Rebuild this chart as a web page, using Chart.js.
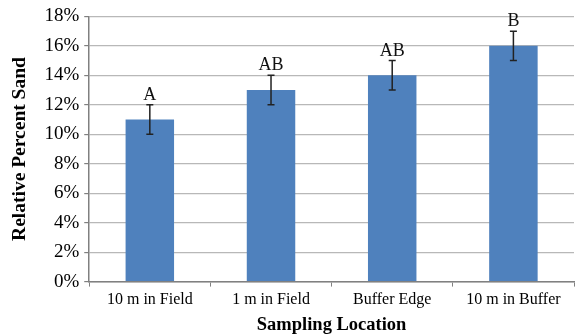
<!DOCTYPE html>
<html>
<head>
<meta charset="utf-8">
<script src="https://cdn.jsdelivr.net/npm/chart.js@4/dist/chart.umd.min.js"></script>
<style>
  html, body { margin: 0; padding: 0; background: #fff; }
  #wrap { width: 576px; height: 336px; }
</style>
</head>
<body>
<div id="wrap"><canvas id="chart"></canvas></div>
<script>
// --- Dados ---
const locations = ['10 m in Field', '1 m in Field', 'Buffer Edge', '10 m in Buffer'];
const sandPercent = [11, 13, 14, 16];
const errorPercent = [1, 1, 1, 1];
const groupLetters = ['A', 'AB', 'AB', 'B'];

const serif = '"Liberation Serif", "Times New Roman", serif';

// Barras de erro + letras de significância desenhadas pelas escalas
const errorBarsPlugin = {
    id: 'errorBars',
    afterDatasetsDraw(chart) {
        const { ctx, scales: { x, y } } = chart;
        ctx.save();
        ctx.strokeStyle = '#222';
        ctx.lineWidth = 1.5;
        sandPercent.forEach((v, i) => {
            const cx = x.getPixelForValue(i);
            const top = y.getPixelForValue(v + errorPercent[i]);
            const bot = y.getPixelForValue(v - errorPercent[i]);
            ctx.beginPath();
            ctx.moveTo(cx, top); ctx.lineTo(cx, bot);
            ctx.moveTo(cx - 3.5, top); ctx.lineTo(cx + 3.5, top);
            ctx.moveTo(cx - 3.5, bot); ctx.lineTo(cx + 3.5, bot);
            ctx.stroke();

            ctx.fillStyle = '#111';
            ctx.font = '18px ' + serif;
            ctx.textAlign = 'center';
            ctx.textBaseline = 'alphabetic';
            ctx.fillText(groupLetters[i], cx, top - 5);
        });
        ctx.restore();
    }
};

new Chart(document.getElementById('chart'), {
    type: 'bar',
    data: {
        labels: locations,
        datasets: [{
            data: sandPercent,
            backgroundColor: '#4f81bd',
            categoryPercentage: 1,
            barPercentage: 0.4
        }]
    },
    options: {
        responsive: true,
        maintainAspectRatio: false,
        animation: false,
        layout: { padding: { top: 7, right: 2, left: 8, bottom: 0 } },
        plugins: { legend: { display: false }, tooltip: { enabled: false } },
        scales: {
            x: {
                grid: { display: true, drawOnChartArea: false, offset: true, tickLength: 5, color: '#808080' },
                border: { color: '#808080', width: 1.5 },
                ticks: { color: '#000', font: { family: serif, size: 16 }, padding: 4 },
                title: { display: true, text: 'Sampling Location', color: '#000',
                         font: { family: serif, size: 18.5, weight: 'bold' }, padding: { top: 0, bottom: 0 } }
            },
            y: {
                min: 0,
                max: 18,
                ticks: { stepSize: 2, callback: v => v + '%', color: '#000',
                         font: { family: serif, size: 19 }, padding: 5 },
                grid: { color: '#b8b8b8', lineWidth: 1.2, tickLength: 5, tickColor: '#808080' },
                border: { color: '#808080', width: 1.5 },
                title: { display: true, text: 'Relative Percent Sand', color: '#000',
                         font: { family: serif, size: 19.5, weight: 'bold' }, padding: { top: 0, bottom: 8 } }
            }
        }
    },
    plugins: [errorBarsPlugin]
});
</script>
</body>
</html>
